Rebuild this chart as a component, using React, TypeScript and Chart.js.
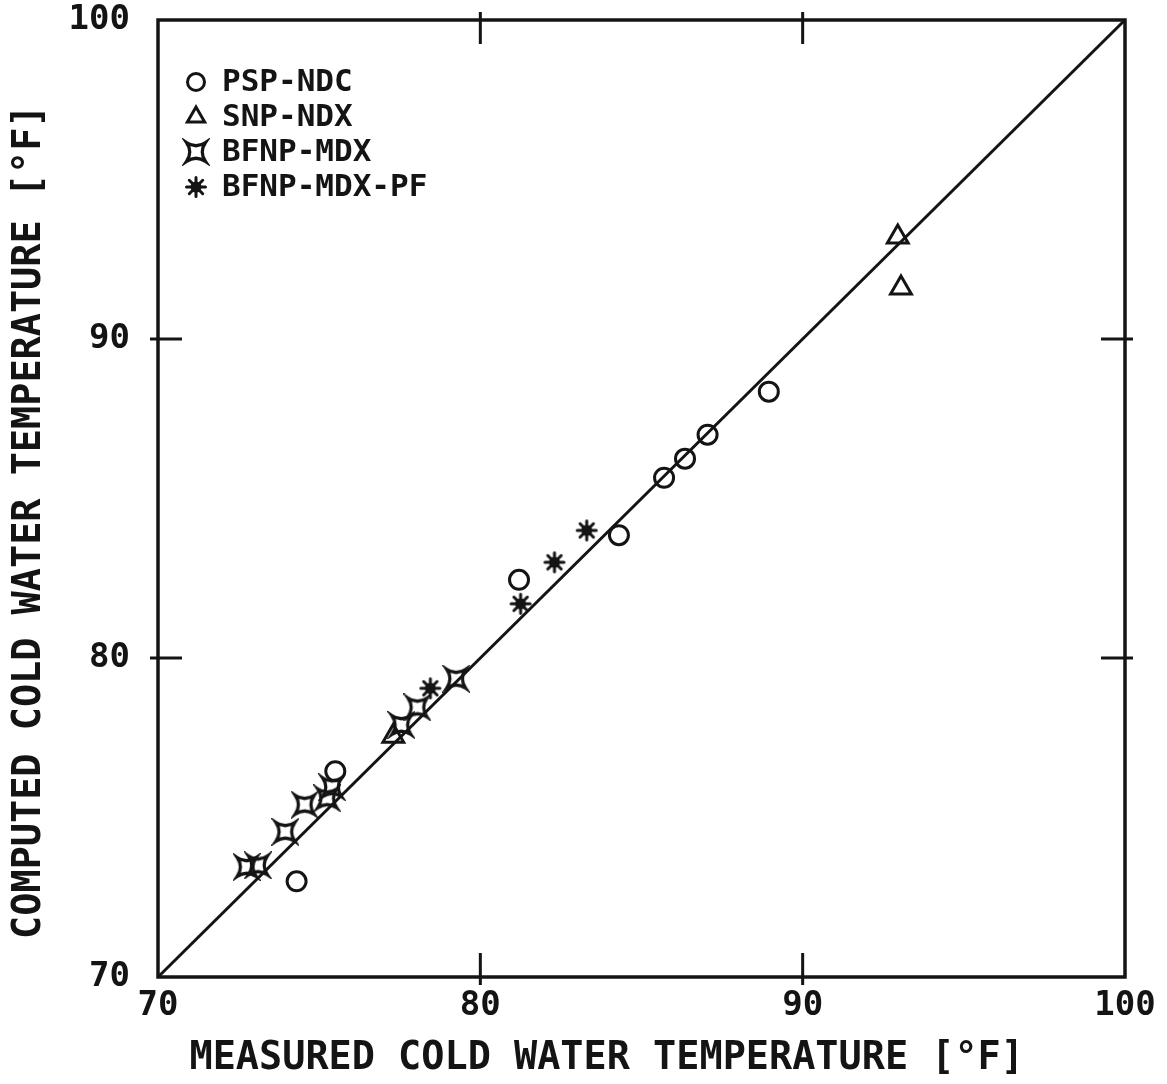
import { useEffect, useRef } from 'react';
import { Chart, registerables } from 'chart.js';
import { drawPoint } from 'chart.js/helpers';

Chart.register(...registerables);

// ---- data ----
const seriesNames = ['PSP-NDC', 'SNP-NDX', 'BFNP-MDX', 'BFNP-MDX-PF'];

const pspMeasured = [74.3, 75.5, 81.2, 84.3, 85.7, 86.35, 87.05, 88.95];
const pspComputed = [73.0, 76.45, 82.45, 83.85, 85.65, 86.25, 87.0, 88.35];

const snpMeasured = [92.95, 93.05, 77.3];
const snpComputed = [93.2, 91.6, 77.55];

const bfnpMeasured = [72.75, 73.1, 73.95, 74.55, 75.25, 75.4, 77.55, 78.05, 79.25];
const bfnpComputed = [73.45, 73.5, 74.55, 75.4, 75.6, 75.95, 77.9, 78.45, 79.35];

const bfnpPfMeasured = [78.45, 81.25, 82.3, 83.3];
const bfnpPfComputed = [79.05, 81.7, 83.0, 84.0];

const lineOfEquality = [70, 100];
const axisMin = 70;
const axisMax = 100;
const tickStep = 10;
const innerTickValues = [80, 90];

const xTitle = 'MEASURED COLD WATER TEMPERATURE [°F]   ';
const yTitle = 'COMPUTED COLD WATER TEMPERATURE [°F]  ';

const INK = '#141414';
const FONT = '"DejaVu Sans Mono", "Liberation Mono", monospace';

function pts(xs: number[], ys: number[]) {
  return xs.map((x, i) => ({ x, y: ys[i] }));
}

function makeBoxStar(): HTMLCanvasElement {
  const c = document.createElement('canvas');
  c.width = 28;
  c.height = 28;
  const g = c.getContext('2d')!;
  const m = 14;
  const d = 9.5;
  const k = 3;
  g.strokeStyle = INK;
  g.lineWidth = 3.2;
  g.lineJoin = 'miter';
  g.beginPath();
  g.moveTo(m - d, m - d);
  g.quadraticCurveTo(m, m - k, m + d, m - d);
  g.quadraticCurveTo(m + k, m, m + d, m + d);
  g.quadraticCurveTo(m, m + k, m - d, m + d);
  g.quadraticCurveTo(m - k, m, m - d, m - d);
  g.closePath();
  g.stroke();
  return c;
}

function makeAsterisk(): HTMLCanvasElement {
  const c = document.createElement('canvas');
  c.width = 24;
  c.height = 24;
  const g = c.getContext('2d')!;
  const m = 12;
  g.strokeStyle = INK;
  g.fillStyle = INK;
  g.lineWidth = 3;
  g.lineCap = 'round';
  g.beginPath();
  for (let k = 0; k < 8; k++) {
    const a = (k * Math.PI) / 4;
    g.moveTo(m, m);
    g.lineTo(m + Math.cos(a) * 9.5, m + Math.sin(a) * 9.5);
  }
  g.stroke();
  g.beginPath();
  g.arc(m, m, 5.5, 0, Math.PI * 2);
  g.fill();
  return c;
}

const framePlugin = {
  id: 'frameTicks',
  afterDatasetsDraw(chart: any) {
    const { ctx, chartArea } = chart;
    const { left, right, top, bottom } = chartArea;
    const xs = chart.scales.x;
    const ys = chart.scales.y;
    ctx.save();
    ctx.strokeStyle = INK;
    ctx.lineWidth = 3.5;
    ctx.strokeRect(left, top, right - left, bottom - top);
    ctx.lineWidth = 3;
    const out = 8;
    const inn = 24;
    ctx.beginPath();
    innerTickValues.forEach((v) => {
      const px = xs.getPixelForValue(v);
      const py = ys.getPixelForValue(v);
      ctx.moveTo(px, bottom + out); ctx.lineTo(px, bottom - inn);
      ctx.moveTo(px, top - out); ctx.lineTo(px, top + inn);
      ctx.moveTo(left - out, py); ctx.lineTo(left + inn, py);
      ctx.moveTo(right + out, py); ctx.lineTo(right - inn, py);
    });
    ctx.stroke();

    // legend
    const lx = left + 38;
    const ly0 = top + 62;
    const gap = 35;
    ctx.font = `bold 31px ${FONT}`;
    ctx.textBaseline = 'middle';
    ctx.textAlign = 'left';
    ctx.fillStyle = INK;
    chart.data.datasets.forEach((ds: any) => {
      if (!ds.inLegend) return;
      const y = ly0 + ds.legendIndex * gap;
      ctx.save();
      ctx.strokeStyle = INK;
      ctx.fillStyle = 'rgba(0,0,0,0)';
      ctx.lineWidth = 3;
      drawPoint(ctx, { pointStyle: ds.pointStyle, radius: ds.legendRadius, borderWidth: 3, rotation: 0 } as any, lx, y);
      ctx.restore();
      ctx.fillStyle = INK;
      ctx.fillText(ds.label, lx + 26, y + 1);
    });
    ctx.restore();
  },
};

export default function App() {
  const ref = useRef<HTMLCanvasElement | null>(null);

  useEffect(() => {
    if (!ref.current) return;
    const boxStar = makeBoxStar();
    const asterisk = makeAsterisk();
    const chart = new Chart(ref.current, {
      type: 'scatter',
      data: {
        datasets: [
          {
            type: 'line',
            label: 'equality',
            data: pts(lineOfEquality, lineOfEquality),
            borderColor: INK,
            borderWidth: 3,
            pointRadius: 0,
            order: 10,
          } as any,
          {
            label: seriesNames[0],
            data: pts(pspMeasured, pspComputed),
            pointStyle: 'circle',
            pointRadius: 9.5,
            borderWidth: 3,
            borderColor: INK,
            backgroundColor: 'rgba(0,0,0,0)',
            inLegend: true,
            legendIndex: 0,
            legendRadius: 8.5,
            order: 1,
          } as any,
          {
            label: seriesNames[1],
            data: pts(snpMeasured, snpComputed),
            pointStyle: 'triangle',
            pointRadius: 12,
            borderWidth: 3,
            borderColor: INK,
            backgroundColor: 'rgba(0,0,0,0)',
            inLegend: true,
            legendIndex: 1,
            legendRadius: 10,
            order: 1,
          } as any,
          {
            label: seriesNames[2],
            data: pts(bfnpMeasured, bfnpComputed),
            pointStyle: boxStar,
            pointRadius: 10,
            inLegend: true,
            legendIndex: 2,
            legendRadius: 10,
            order: 1,
          } as any,
          {
            label: seriesNames[3],
            data: pts(bfnpPfMeasured, bfnpPfComputed),
            pointStyle: asterisk,
            pointRadius: 10,
            inLegend: true,
            legendIndex: 3,
            legendRadius: 10,
            order: 1,
          } as any,
        ],
      },
      options: {
        animation: false,
        responsive: true,
        maintainAspectRatio: false,
        layout: { padding: { top: 20, right: 42, left: 0, bottom: 0 } },
        plugins: {
          legend: { display: false },
          tooltip: { enabled: false },
        },
        scales: {
          x: {
            type: 'linear',
            min: axisMin,
            max: axisMax,
            grid: { display: false, drawTicks: false },
            border: { display: false },
            ticks: {
              stepSize: tickStep,
              color: INK,
              padding: 9,
              font: { family: FONT, size: 34, weight: 'bold' },
              maxRotation: 0,
            },
            title: {
              display: true,
              text: xTitle,
              color: INK,
              font: { family: FONT, size: 38.5, weight: 'bold', lineHeight: 1 },
              padding: { top: 0, bottom: 6 },
            },
            afterFit(scale: any) {
              scale.height = 107;
              scale.paddingLeft = 0;
              scale.paddingRight = 0;
            },
          },
          y: {
            type: 'linear',
            min: axisMin,
            max: axisMax,
            grid: { display: false, drawTicks: false },
            border: { display: false },
            ticks: {
              stepSize: tickStep,
              color: INK,
              padding: 28,
              font: { family: FONT, size: 34, weight: 'bold' },
            },
            title: {
              display: true,
              text: yTitle,
              color: INK,
              font: { family: FONT, size: 38.5, weight: 'bold', lineHeight: 1 },
              padding: { top: 11, bottom: 0 },
            },
            afterFit(scale: any) {
              scale.width = 158;
              scale.paddingTop = 0;
              scale.paddingBottom = 0;
            },
          },
        },
      } as any,
      plugins: [framePlugin],
    });
    return () => chart.destroy();
  }, []);

  return (
    <div style={{ position: 'fixed', left: 0, top: 0, width: 1167, height: 1084, background: '#fff' }}>
      <canvas ref={ref} />
    </div>
  );
}
